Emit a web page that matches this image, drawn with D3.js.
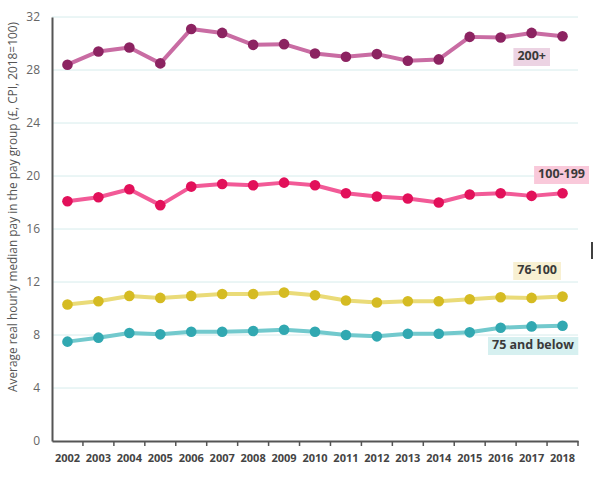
<!DOCTYPE html>
<html>
<head>
<meta charset="utf-8">
<script src="https://cdn.jsdelivr.net/npm/d3@7"></script>
<style>
  body { margin: 0; background: #fff; }
  svg { font-family: "Open Sans", "Noto Sans", sans-serif; }
</style>
</head>
<body>
<svg id="chart"></svg>
<script>
// Data
const years = ["2002","2003","2004","2005","2006","2007","2008","2009","2010","2011","2012","2013","2014","2015","2016","2017","2018"];
const pay200plus = [28.4, 29.4, 29.7, 28.5, 31.1, 30.8, 29.9, 29.95, 29.25, 29.0, 29.2, 28.7, 28.8, 30.5, 30.45, 30.8, 30.55];
const pay100to199 = [18.1, 18.4, 19.0, 17.8, 19.2, 19.4, 19.3, 19.5, 19.3, 18.7, 18.45, 18.3, 18.0, 18.6, 18.7, 18.5, 18.7];
const pay76to100 = [10.3, 10.55, 10.95, 10.8, 10.95, 11.1, 11.1, 11.2, 11.0, 10.6, 10.45, 10.55, 10.55, 10.7, 10.85, 10.8, 10.9];
const pay75below = [7.5, 7.8, 8.15, 8.05, 8.25, 8.25, 8.3, 8.4, 8.25, 8.0, 7.9, 8.1, 8.1, 8.2, 8.55, 8.65, 8.7];
const yTicks = [0, 4, 8, 12, 16, 20, 24, 28, 32];
const seriesNames = ["200+", "100-199", "76-100", "75 and below"];

(() => {
    const width = 593;
    const height = 477;
    const margin = { top: 17, right: 15, bottom: 36, left: 52 };

    const svg = d3.select("#chart")
        .attr("width", width)
        .attr("height", height);

    const x = d3.scaleBand()
        .domain(years)
        .range([margin.left, 578]);

    const y = d3.scaleLinear()
        .domain([0, 32])
        .range([height - margin.bottom, margin.top]);

    // Gridlines
    svg.append("g")
        .selectAll("line")
        .data(yTicks.filter(d => d > 0))
        .join("line")
        .attr("x1", margin.left)
        .attr("x2", 578)
        .attr("y1", d => y(d))
        .attr("y2", d => y(d))
        .attr("stroke", "#d6ecec")
        .attr("stroke-width", 1);

    // Y axis
    const yAxis = svg.append("g")
        .attr("transform", `translate(${margin.left},0)`)
        .call(d3.axisLeft(y).tickValues(yTicks).tickSize(0).tickPadding(12));
    yAxis.select(".domain").attr("stroke", "#555").attr("stroke-width", 2);
    yAxis.selectAll("text")
        .attr("fill", "#666")
        .attr("font-size", 12)
        .attr("font-family", "Open Sans, sans-serif");

    // X axis
    const xAxis = svg.append("g")
        .attr("transform", `translate(0,${y(0)})`)
        .call(d3.axisBottom(x).tickSize(0).tickPadding(13));
    xAxis.select(".domain").attr("stroke", "#555").attr("stroke-width", 2);
    xAxis.selectAll("text")
        .attr("fill", "#444")
        .attr("font-size", 11)
        .attr("font-weight", "bold")
        .attr("font-family", "Open Sans, sans-serif");
    // Ticks between years
    xAxis.append("g")
        .selectAll("line")
        .data(years.slice(1).concat(["end"]))
        .join("line")
        .attr("x1", (d, i) => x(years[0]) + x.step() * (i + 1))
        .attr("x2", (d, i) => x(years[0]) + x.step() * (i + 1))
        .attr("y1", 0)
        .attr("y2", 5)
        .attr("stroke", "#555")
        .attr("stroke-width", 1.5);

    // Y label
    svg.append("text")
        .attr("transform", "translate(17,207) rotate(-90)")
        .attr("text-anchor", "middle")
        .attr("fill", "#555")
        .attr("font-size", 12)
        .attr("textLength", 370)
        .attr("lengthAdjust", "spacingAndGlyphs")
        .text("Average real hourly median pay in the pay group (£, CPI, 2018=100)");

    const series = [
        { name: seriesNames[0], values: pay200plus, line: "#c96ca3", dot: "#8c2361", bg: "#ecd3e3" },
        { name: seriesNames[1], values: pay100to199, line: "#f25a97", dot: "#e2105a", bg: "#f9c9da" },
        { name: seriesNames[2], values: pay76to100, line: "#eadb78", dot: "#d5bb22", bg: "#f8f0d2" },
        { name: seriesNames[3], values: pay75below, line: "#72c9cd", dot: "#31a8b1", bg: "#d6f0f0" }
    ];

    const line = d3.line()
        .x((d, i) => x(years[i]) + x.bandwidth() / 2)
        .y(d => y(d));

    series.forEach(s => {
        svg.append("path")
            .datum(s.values)
            .attr("fill", "none")
            .attr("stroke", s.line)
            .attr("stroke-width", 4)
            .attr("stroke-linejoin", "round")
            .attr("d", line);
        svg.append("g")
            .selectAll("circle")
            .data(s.values)
            .join("circle")
            .attr("cx", (d, i) => x(years[i]) + x.bandwidth() / 2)
            .attr("cy", d => y(d))
            .attr("r", 5.3)
            .attr("fill", s.dot);
    });

    // Labels (right-aligned near last point)
    const labelPos = [
        { dx: 550, dy: 57 },
        { dx: 589, dy: 175 },
        { dx: 561, dy: 271 },
        { dx: 578, dy: 346 }
    ];
    series.forEach((s, i) => {
        const g = svg.append("g");
        const t = g.append("text")
            .attr("x", labelPos[i].dx - 4)
            .attr("y", labelPos[i].dy)
            .attr("text-anchor", "end")
            .attr("dominant-baseline", "middle")
            .attr("font-size", 12.5)
            .attr("font-weight", "bold")
            .attr("fill", "#3a3a3a")
            .text(s.name);
        const bb = t.node().getBBox();
        g.insert("rect", "text")
            .attr("x", bb.x - 4)
            .attr("y", labelPos[i].dy - 9)
            .attr("width", bb.width + 8)
            .attr("height", 18)
            .attr("fill", s.bg);
    });

    // Stray cursor mark at the right edge
    svg.append("line")
        .attr("x1", 592).attr("x2", 592)
        .attr("y1", 242).attr("y2", 259)
        .attr("stroke", "#000")
        .attr("stroke-width", 1.5);
})();
</script>
</body>
</html>
